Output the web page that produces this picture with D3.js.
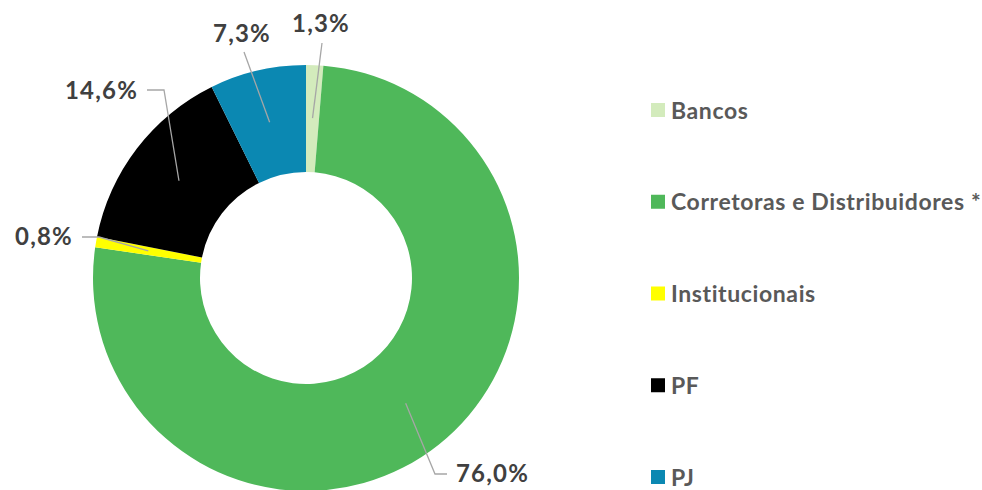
<!DOCTYPE html>
<html>
<head>
<meta charset="utf-8">
<script src="https://cdn.jsdelivr.net/npm/d3@7"></script>
<style>
  body { margin: 0; background: #fff; }
  svg { display: block; font-family: Lato, "Open Sans", sans-serif; font-weight: 700; }
</style>
</head>
<body>
<svg id="chart"></svg>
<script>
// data
const categories = ["Bancos", "Corretoras e Distribuidores *", "Institucionais", "PF", "PJ"];
const values = [1.3, 76.0, 0.8, 14.6, 7.3];
const labels = ["1,3%", "76,0%", "0,8%", "14,6%", "7,3%"];
const colors = ["#d3ebbc", "#4fb85a", "#ffff00", "#000000", "#0b88b2"];

// leader line layout: elbow point, end of horizontal part, text anchor
const labelLayout = [
  { elbow: [322, 43], end: null, text: [321, 32], anchor: "middle" },
  { elbow: [435, 474], end: [447, 474], text: [456, 482], anchor: "start" },
  { elbow: [99, 237], end: [82, 237], text: [73, 245], anchor: "end" },
  { elbow: [164, 90], end: [147, 90], text: [138, 99], anchor: "end" },
  { elbow: [244, 52], end: null, text: [242, 42], anchor: "middle" }
];

width = 982;
height = 490;
cx = 306;
cy = 278;
outerR = 213;
innerR = 106;

svg = d3.select("#chart").attr("width", width).attr("height", height);

const g = svg.append("g").attr("transform", `translate(${cx}, ${cy})`);

const pie = d3.pie().sort(null).value(d => d);
const arcs = pie(values);

const arc = d3.arc().innerRadius(innerR).outerRadius(outerR);
const midArc = d3.arc().innerRadius(160).outerRadius(160);

g.selectAll("path.slice")
  .data(arcs)
  .enter()
  .append("path")
  .attr("class", "slice")
  .attr("d", arc)
  .attr("fill", (d, i) => colors[i]);

// leader lines
const line = d3.line();
svg.selectAll("path.leader")
  .data(arcs)
  .enter()
  .append("path")
  .attr("class", "leader")
  .attr("fill", "none")
  .attr("stroke", "#a6a6a6")
  .attr("stroke-width", 1.3)
  .attr("d", (d, i) => {
    const c = midArc.centroid(d);
    const pts = [[cx + c[0], cy + c[1]], labelLayout[i].elbow];
    if (labelLayout[i].end) pts.push(labelLayout[i].end);
    return line(pts);
  });

svg.selectAll("text.value")
  .data(arcs)
  .enter()
  .append("text")
  .attr("class", "value")
  .attr("x", (d, i) => labelLayout[i].text[0])
  .attr("y", (d, i) => labelLayout[i].text[1])
  .attr("text-anchor", (d, i) => labelLayout[i].anchor)
  .attr("fill", "#404040")
  .style("font-size", "24px")
  .style("letter-spacing", "1.2px")
  .text((d, i) => labels[i]);

// legend
const legendY = d3.scalePoint().domain(categories).range([110, 477]);

const legend = svg.selectAll("g.legend")
  .data(categories)
  .enter()
  .append("g")
  .attr("class", "legend")
  .attr("transform", d => `translate(651, ${legendY(d)})`);

legend.append("rect")
  .attr("x", 0)
  .attr("y", -7)
  .attr("width", 14)
  .attr("height", 14)
  .attr("fill", (d, i) => colors[i]);

legend.append("text")
  .attr("x", 20)
  .attr("y", 8.5)
  .attr("fill", "#595959")
  .style("font-size", "23px")
  .style("letter-spacing", "0.6px")
  .text(d => d);
</script>
</body>
</html>
